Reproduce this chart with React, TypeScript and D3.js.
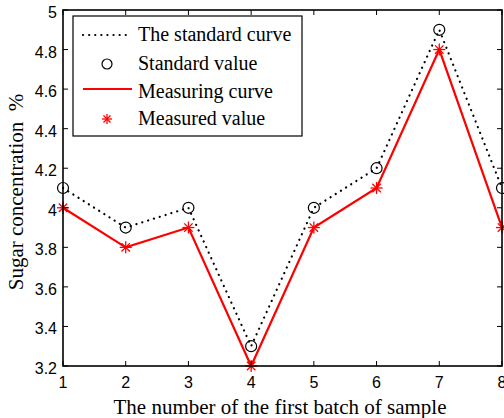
import React from "react";
import * as d3 from "d3";

const samples = [1, 2, 3, 4, 5, 6, 7, 8];
const standardValues = [4.1, 3.9, 4.0, 3.3, 4.0, 4.2, 4.9, 4.1];
const measuredValues = [4.0, 3.8, 3.9, 3.2, 3.9, 4.1, 4.8, 3.9];
const yTicks = [3.2, 3.4, 3.6, 3.8, 4, 4.2, 4.4, 4.6, 4.8, 5];
const xTicks = [1, 2, 3, 4, 5, 6, 7, 8];
const legendLabels = ["The standard curve", "Standard value", "Measuring curve", "Measured value"];

const W = 504, H = 418;
const L = 63, R = 502, T = 10, B = 366;

function Star({ x, y, s = 6 }: { x: number; y: number; s?: number }) {
  const d = s * 0.7;
  return (
    <g stroke="#ff0000" strokeWidth={1.3}>
      <line x1={x - s} y1={y} x2={x + s} y2={y} />
      <line x1={x} y1={y - s} x2={x} y2={y + s} />
      <line x1={x - d} y1={y - d} x2={x + d} y2={y + d} />
      <line x1={x - d} y1={y + d} x2={x + d} y2={y - d} />
    </g>
  );
}

export default function App() {
  const x = d3.scaleLinear().domain([1, 8]).range([L, R]);
  const y = d3.scaleLinear().domain([3.2, 5]).range([B, T]);
  const line = d3.line<number>().x((_, i) => x(samples[i])).y((d) => y(d));
  const tickFont = "'Liberation Sans', Arial, sans-serif";
  const serif = "'Liberation Serif', 'Times New Roman', serif";
  const legX = 73, legY = 16, legW = 229, legH = 120;
  const rowMark = [35, 64, 89, 119];
  const rowBase = [41, 70, 98, 125];
  return (
    <svg width={W} height={H} style={{ position: "absolute", left: 0, top: 0, background: "#fff" }}>
      <rect x={0} y={0} width={W} height={H} fill="#fff" />
      <path d={line(standardValues) || ""} fill="none" stroke="#000" strokeWidth={2.2} strokeDasharray="0.1 6" strokeLinecap="round" />
      <path d={line(measuredValues) || ""} fill="none" stroke="#ff0000" strokeWidth={2.2} />
      {standardValues.map((v, i) => (
        <circle key={"c" + i} cx={x(samples[i])} cy={y(v)} r={5.5} fill="none" stroke="#000" strokeWidth={1.2} />
      ))}
      {measuredValues.map((v, i) => (
        <Star key={"s" + i} x={x(samples[i])} y={y(v)} />
      ))}
      <rect x={L} y={T} width={R - L} height={B - T} fill="none" stroke="#000" strokeWidth={1.6} />
      {yTicks.map((t) => (
        <g key={"y" + t}>
          <line x1={L} x2={L + 5} y1={y(t)} y2={y(t)} stroke="#000" strokeWidth={1} />
          <line x1={R} x2={R - 5} y1={y(t)} y2={y(t)} stroke="#000" strokeWidth={1} />
          <text x={L - 6} y={y(t) + 8} textAnchor="end" fontFamily={tickFont} fontSize={16}>{t}</text>
        </g>
      ))}
      {xTicks.map((t) => (
        <g key={"x" + t}>
          <line x1={x(t)} x2={x(t)} y1={B} y2={B - 5} stroke="#000" strokeWidth={1} />
          <line x1={x(t)} x2={x(t)} y1={T} y2={T + 5} stroke="#000" strokeWidth={1} />
          <text x={x(t)} y={388} textAnchor="middle" fontFamily={tickFont} fontSize={16}>{t}</text>
        </g>
      ))}
      <text x={280} y={414} textAnchor="middle" fontFamily={serif} fontSize={21}>The number of the first batch of sample</text>
      <text transform="translate(23,192) rotate(-90)" textAnchor="middle" fontFamily={serif} fontSize={21} style={{ whiteSpace: "pre" }}>{"Sugar concentration  %"}</text>
      <rect x={legX} y={legY} width={legW} height={legH} fill="#fff" stroke="#000" strokeWidth={1.2} />
      <line x1={83} x2={131} y1={rowMark[0]} y2={rowMark[0]} stroke="#000" strokeWidth={2.2} strokeDasharray="0.1 6" strokeLinecap="round" />
      <circle cx={107} cy={rowMark[1]} r={5} fill="none" stroke="#000" strokeWidth={1.2} />
      <line x1={83} x2={132} y1={rowMark[2]} y2={rowMark[2]} stroke="#ff0000" strokeWidth={2.2} />
      <Star x={107} y={rowMark[3]} s={5} />
      {legendLabels.map((l, i) => (
        <text key={l} x={138} y={rowBase[i]} fontFamily={serif} fontSize={20}>{l}</text>
      ))}
    </svg>
  );
}
